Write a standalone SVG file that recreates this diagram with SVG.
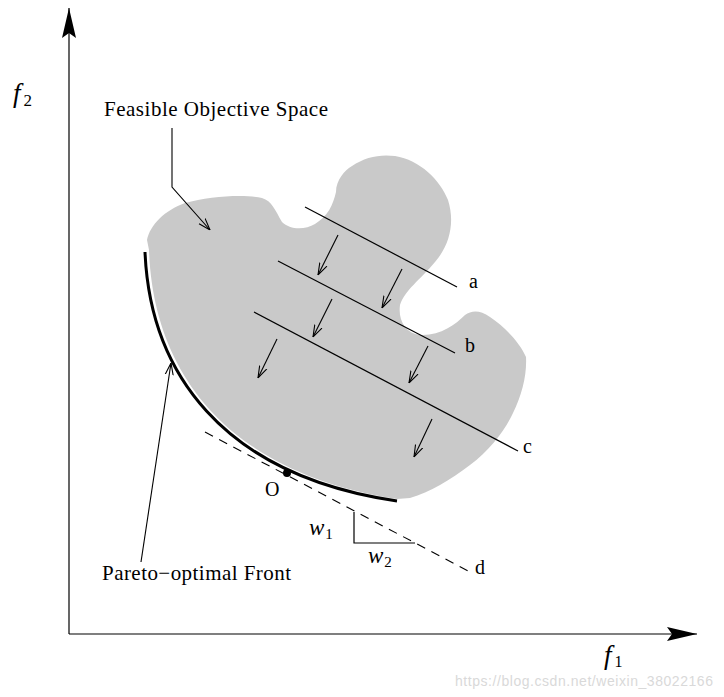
<svg xmlns="http://www.w3.org/2000/svg" width="724" height="697" viewBox="0 0 724 697">
<style>
.t{font-family:"Liberation Serif","Times New Roman",serif;fill:#000}
.ln{fill:none;stroke:#000;stroke-width:1.2}
.ar{fill:none;stroke:#000;stroke-width:1.1;marker-end:url(#v)}
</style>
<defs>
<marker id="v" viewBox="0 0 12 10" refX="12" refY="5" markerWidth="12" markerHeight="10" markerUnits="userSpaceOnUse" orient="auto"><path d="M0,1 L12,5 L0,9" fill="none" stroke="#000" stroke-width="1.1"/></marker>
<marker id="ax" viewBox="0 0 30 14" refX="30" refY="7" markerWidth="30" markerHeight="14" markerUnits="userSpaceOnUse" orient="auto"><path d="M0,0 L30,7 L0,14 L5,7 Z" fill="#000"/></marker>
</defs>
<rect width="724" height="697" fill="#fff"/>
<g id="region">
<path d="M147,240 C150,225 165,210 185,203 C210,196 245,194 262,198 C272,201 275,210 282,222 C290,230 305,230 315,224 C328,216 333,205 336,192 C336,180 345,170 352,166 C365,157 380,154 395,156 C420,160 440,180 448,200 C455,222 450,245 435,262 C420,280 405,290 400,305 C398,320 405,333 420,335 C440,336 455,325 465,315 C472,310 480,310 490,317 C505,327 520,343 526,357 C527,375 522,395 513,413 C505,430 490,450 470,465 C450,480 430,492 410,498 L397,499 C222,472 153,368 149,250 Z" fill="#c9c9c9"/>
</g>
<g id="axes">
<line x1="69" y1="634" x2="69" y2="8" class="ln" marker-end="url(#ax)"/>
<line x1="69" y1="634" x2="697" y2="634" class="ln" marker-end="url(#ax)"/>
<text class="t" x="13" y="102" font-size="27" font-style="italic">f<tspan font-size="17" font-style="normal" dx="3" dy="4">2</tspan></text>
<text class="t" x="604" y="664" font-size="27" font-style="italic">f<tspan font-size="16" font-style="normal" dx="3" dy="3">1</tspan></text>
</g>
<g id="pareto-front">
<path d="M145,252 C150,370 220,475 397,501" fill="none" stroke="#000" stroke-width="3"/>
<circle cx="287" cy="473" r="4" fill="#000"/>
<text class="t" x="265" y="496" font-size="20">O</text>
</g>
<g id="line-a"><line x1="305" y1="207" x2="457" y2="287" class="ln"/><text class="t" x="469" y="288" font-size="20">a</text></g>
<g id="line-b"><line x1="278" y1="261" x2="455" y2="353" class="ln"/><text class="t" x="465" y="352" font-size="20">b</text></g>
<g id="line-c"><line x1="254" y1="312" x2="518" y2="451" class="ln"/><text class="t" x="523" y="453" font-size="20">c</text></g>
<g id="line-d">
<line x1="205" y1="432" x2="470" y2="572" fill="none" stroke="#000" stroke-width="1.1" stroke-dasharray="9,7"/>
<text class="t" x="475" y="574" font-size="20">d</text>
<path d="M354,512 L354,543 L415,543" class="ln"/>
<text class="t" x="309" y="535" font-size="23" font-style="italic">w<tspan font-size="15" font-style="normal" dx="1" dy="4">1</tspan></text>
<text class="t" x="368" y="563" font-size="23" font-style="italic">w<tspan font-size="15" font-style="normal" dx="1" dy="4">2</tspan></text>
</g>
<g id="labels">
<text class="t" x="104" y="116" font-size="21" textLength="224" lengthAdjust="spacing">Feasible Objective Space</text>
<text class="t" x="102" y="580" font-size="21" textLength="189" lengthAdjust="spacing">Pareto−optimal Front</text>
</g>
<g id="connectors">
<path d="M172,128 L172,187 L210,230" class="ar"/>
<path d="M141,562 L171,363" class="ar"/>
<path d="M338,235 L318,275" class="ar"/>
<path d="M402,269 L382,308" class="ar"/>
<path d="M332,299 L313,337" class="ar"/>
<path d="M277,339 L258,378" class="ar"/>
<path d="M428,346 L409,383" class="ar"/>
<path d="M432,419 L414,457" class="ar"/>
</g>
<text x="455" y="686" font-family="Liberation Sans,Arial,sans-serif" font-size="14" fill="#d9d9d9" textLength="258">https://blog.csdn.net/weixin_38022166</text>
</svg>
